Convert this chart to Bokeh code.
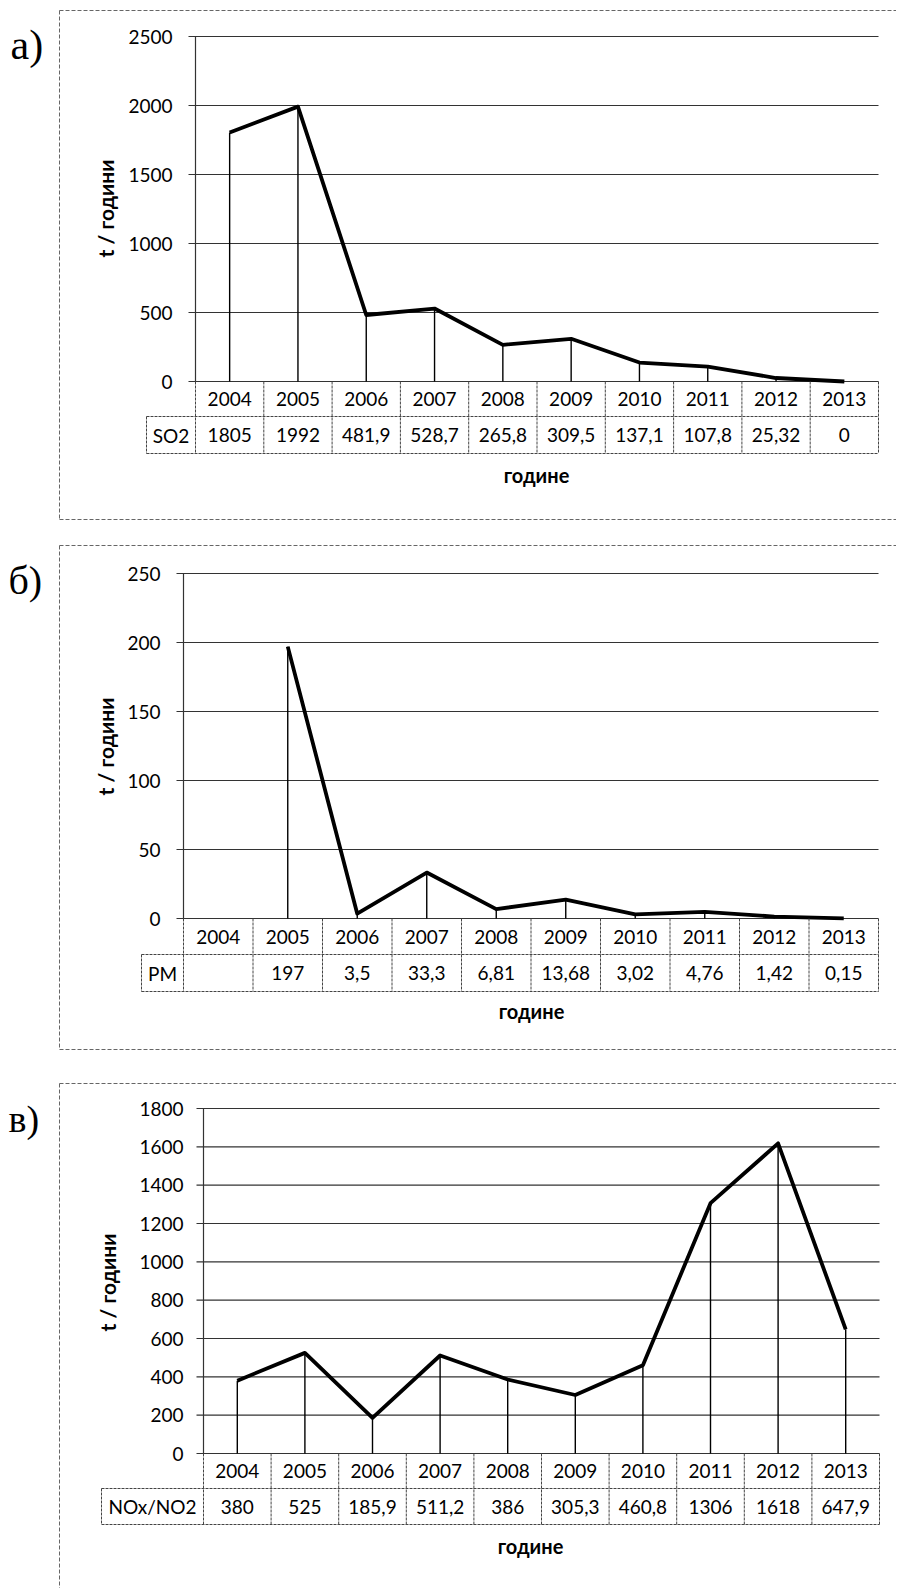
import math
from bokeh.plotting import figure
from bokeh.models import Range1d
from bokeh.layouts import column
from bokeh.embed import file_html
from bokeh.resources import INLINE
from bokeh.core.properties import value

# ---------------- data ----------------
years = ["2004", "2005", "2006", "2007", "2008", "2009", "2010", "2011", "2012", "2013"]

so2_values = [1805, 1992, 481.9, 528.7, 265.8, 309.5, 137.1, 107.8, 25.32, 0]
pm_values = [float("nan"), 197, 3.5, 33.3, 6.81, 13.68, 3.02, 4.76, 1.42, 0.15]
nox_values = [380, 525, 185.9, 511.2, 386, 305.3, 460.8, 1306, 1618, 647.9]

so2_ticks = [0, 500, 1000, 1500, 2000, 2500]
pm_ticks = [0, 50, 100, 150, 200, 250]
nox_ticks = [0, 200, 400, 600, 800, 1000, 1200, 1400, 1600, 1800]

series_names = ["SO2", "PM", "NOx/NO2"]
panel_labels = ["a)", "б)", "в)"]
y_title = "t / години"
x_title = "године"

# ---------------- layout (page pixels) ----------------
W = 896
PAGE_LEFT = 0
TICK_FONT = value("Lato")
FS = "19px"

layouts = [
    dict(top=0, height=532, L=195, R=878, y0=381, ytop=36, r1=416, tb=453, LL=146,
         tick_right=172, box=(59, 10, 519), ylab=(105, 208), xlab=(536, 474),
         lab=(10, 44, "42px")),
    dict(top=532, height=534, L=183, R=878, y0=918, ytop=573, r1=954, tb=991, LL=141,
         tick_right=160, box=(59, 545, 1049), ylab=(105, 746), xlab=(531, 1010),
         lab=(8, 580, "40px")),
    dict(top=1066, height=522, L=203, R=879, y0=1453, ytop=1108, r1=1488, tb=1524, LL=101,
         tick_right=183, box=(59, 1083, None), ylab=(107, 1282), xlab=(530, 1545),
         lab=(8, 1118, "38px")),
]


def fmt(v):
    if isinstance(v, float) and math.isnan(v):
        return ""
    return f"{v:g}".replace(".", ",")


def make_panel(vals, ticks, name, label, lay):
    T, H = lay["top"], lay["height"]
    L, R = lay["L"], lay["R"]
    n = len(years)
    cw = (R - L) / n
    y0, ytop = lay["y0"], lay["ytop"]
    vmax = ticks[-1]
    s = (y0 - ytop) / vmax
    idx = list(range(n))

    p = figure(width=W, height=H,
               x_range=Range1d((PAGE_LEFT - L) / cw - 0.5, (PAGE_LEFT + W - L) / cw - 0.5),
               y_range=Range1d((y0 - (T + H)) / s, (y0 - T) / s),
               output_backend="svg", toolbar_location=None,
               x_axis_type=None, y_axis_type=None, min_border=0)
    p.outline_line_color = None
    p.background_fill_color = "white"
    p.border_fill_color = "white"
    p.extra_x_ranges = {"px": Range1d(PAGE_LEFT, PAGE_LEFT + W)}
    p.extra_y_ranges = {"px": Range1d(T + H, T)}

    # outer dashed frame of the panel (right side runs off the page)
    bx, btop, bbot = lay["box"]
    box_kw = dict(line_color="#666666", line_width=1, line_dash="4 2",
                  x_range_name="px", y_range_name="px")
    p.segment(x0=[bx, bx], y0=[btop, btop], x1=[PAGE_LEFT + W, bx],
              y1=[btop, bbot if bbot is not None else T + H], **box_kw)
    if bbot is not None:
        p.segment(x0=[bx], y0=[bbot], x1=[PAGE_LEFT + W], y1=[bbot], **box_kw)

    # panel letter
    lx, lmid, lsize = lay["lab"]
    p.text(x=[lx], y=[lmid], text=[label], text_font=value("Liberation Serif"),
           text_font_size=lsize, text_align="left", text_baseline="middle",
           text_color="black", x_range_name="px", y_range_name="px")

    # horizontal gridlines (with short outside tick)
    p.segment(x0=[L - 7] * len(ticks), y0=ticks, x1=[R] * len(ticks), y1=ticks,
              line_color="#333333", line_width=1.2, x_range_name="px")
    # y axis line
    p.segment(x0=[L], y0=[0], x1=[L], y1=[vmax], line_color="#333333",
              line_width=1.2, x_range_name="px")
    # tick labels
    p.text(x=[lay["tick_right"]] * len(ticks), y=ticks, text=[str(t) for t in ticks],
           text_font=TICK_FONT, text_font_size=FS, text_align="right",
           text_baseline="middle", text_color="black", x_range_name="px")

    # drop lines and series line
    p.segment(x0=idx, y0=[0] * n, x1=idx, y1=vals, line_color="black", line_width=1.4)
    p.line(idx, vals, line_color="black", line_width=3.8, line_join="round")

    # data table below the axis
    r1, tb, LL = lay["r1"], lay["tb"], lay["LL"]
    tbl_kw = dict(line_color="#444444", line_width=1, line_dash="3 1")
    bounds = [k - 0.5 for k in range(n + 1)]
    p.segment(x0=bounds, y0=[y0] * (n + 1), x1=bounds, y1=[tb] * (n + 1),
              y_range_name="px", **tbl_kw)
    p.segment(x0=[LL, LL, LL], y0=[r1, tb, r1], x1=[R, R, LL], y1=[r1, tb, tb],
              x_range_name="px", y_range_name="px", **tbl_kw)
    p.text(x=idx, y=[(y0 + r1) / 2] * n, text=years, text_font=TICK_FONT,
           text_font_size=FS, text_align="center", text_baseline="middle",
           text_color="black", y_range_name="px")
    p.text(x=idx, y=[(r1 + tb) / 2] * n, text=[fmt(v) for v in vals],
           text_font=TICK_FONT, text_font_size=FS, text_align="center",
           text_baseline="middle", text_color="black", y_range_name="px")
    p.text(x=[(LL + L) / 2], y=[(r1 + tb) / 2], text=[name], text_font=TICK_FONT,
           text_font_size=FS, text_align="center", text_baseline="middle",
           text_color="black", x_range_name="px", y_range_name="px")

    # axis titles
    yx, yy = lay["ylab"]
    p.text(x=[yx], y=[yy], text=[y_title], angle=math.pi / 2, text_font=TICK_FONT,
           text_font_style="bold", text_font_size="21px", text_align="center",
           text_baseline="middle", text_color="black",
           x_range_name="px", y_range_name="px")
    xx, xy = lay["xlab"]
    p.text(x=[xx], y=[xy], text=[x_title], text_font=TICK_FONT,
           text_font_style="bold", text_font_size="20px", text_align="center",
           text_baseline="middle", text_color="black",
           x_range_name="px", y_range_name="px")
    return p


figs = [
    make_panel(so2_values, so2_ticks, series_names[0], panel_labels[0], layouts[0]),
    make_panel(pm_values, pm_ticks, series_names[1], panel_labels[1], layouts[1]),
    make_panel(nox_values, nox_ticks, series_names[2], panel_labels[2], layouts[2]),
]

page = column(*figs, spacing=0)
open("out.html", "w").write(file_html(page, INLINE))
